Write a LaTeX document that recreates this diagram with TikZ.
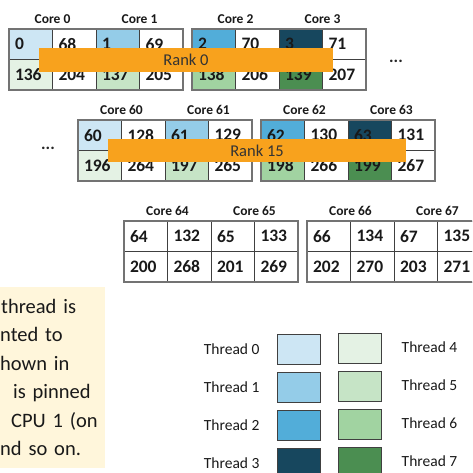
\documentclass[tikz,border=0pt]{standalone}
\usepackage{fontspec}
\setmainfont{Carlito}
\usetikzlibrary{positioning}
\definecolor{th0}{HTML}{CDE6F4}
\definecolor{th1}{HTML}{94CCE8}
\definecolor{th2}{HTML}{52ADD9}
\definecolor{th3}{HTML}{17475E}
\definecolor{th4}{HTML}{E4F2E4}
\definecolor{th5}{HTML}{C6E4C6}
\definecolor{th6}{HTML}{A1D3A1}
\definecolor{th7}{HTML}{4B8E51}
\definecolor{rankorange}{HTML}{F8A21D}
\definecolor{notefill}{HTML}{FFF6DB}
\tikzset{
  cellbox/.style={draw=black!75, line width=0.9pt, anchor=north west,
                  minimum height=30.5pt, text width=31.5pt, inner xsep=6pt,
                  inner ysep=0pt, outer sep=0pt, align=left, text=black!90,
                  font=\bfseries\fontsize{17.5}{18}\selectfont},
  groupframe/.style={draw=black!55, line width=1.6pt},
  corelabel/.style={font=\bfseries\fontsize{13.5}{14}\selectfont, text=black!90},
  rankbar/.style={fill=rankorange, inner sep=0pt, text=black!80,
                  font=\fontsize{16.5}{18}\selectfont},
  moredots/.style={font=\bfseries\fontsize{17}{18}\selectfont, text=black!85},
  legendbox/.style={draw=black!75, line width=1.2pt, anchor=north west,
                    minimum width=43pt, minimum height=30pt, inner sep=0pt},
  legendtext/.style={font=\fontsize{15.5}{16}\selectfont, text=black!90},
  notebox/.style={fill=notefill, anchor=north west, inner sep=0pt,
                  text width=105pt, minimum height=181pt, align=left,
                  font=\fontsize{20.5}{28.5}\selectfont, text=black!90}
}
\begin{document}
\begin{tikzpicture}[x=1pt, y=-1pt]
  \useasboundingbox (0,0) rectangle (472,473);
  \clip (0,0) rectangle (472,473);

  % three rows of cores, two cores per group
  \foreach \xo/\yo/\first/\shade in {9/29/0/1, 78/120/60/1, 124/221/64/0} {
    \foreach \i in {0,...,3} {
      \pgfmathtruncatemacro\k{\first+\i}
      \pgfmathtruncatemacro\m{mod(\k,4)}
      \pgfmathtruncatemacro\n{\m+4}
      \pgfmathsetmacro\cx{\xo+int(\i/2)*183+mod(\i,2)*87}
      \pgfmathtruncatemacro\vtr{\k+68}
      \pgfmathtruncatemacro\vbl{\k+136}
      \pgfmathtruncatemacro\vbr{\k+204}
      \ifnum\shade=1 \def\ftop{th\m}\def\fbot{th\n}\else\def\ftop{white}\def\fbot{white}\fi
      \node[cellbox, fill=\ftop] (c\k-tl) at (\cx,\yo) {\k};
      \node[cellbox, right=0pt of c\k-tl] (c\k-tr) {\vtr};
      \node[cellbox, fill=\fbot, below=0pt of c\k-tl] (c\k-bl) {\vbl};
      \node[cellbox, right=0pt of c\k-bl] (c\k-br) {\vbr};
      \node[corelabel] (core\k) at ([yshift=10pt]c\k-tl.north east) {Core \k};
    }
    \pgfmathtruncatemacro\ka{\first+1}
    \pgfmathtruncatemacro\kb{\first+2}
    \pgfmathtruncatemacro\kc{\first+3}
    \draw[groupframe] (c\first-tl.north west) rectangle (c\ka-br.south east);
    \draw[groupframe] (c\kb-tl.north west) rectangle (c\kc-br.south east);
  }

  % rank bars across the cores
  \node[rankbar, minimum width=294pt, minimum height=24pt] (rank0) at (186,60) {Rank 0};
  \node[rankbar, minimum width=298pt, minimum height=23pt] (rank15) at (257,150.5) {Rank 15};

  \node[moredots] (moreA) at (396,61) {...};
  \node[moredots] (moreB) at (48,148) {...};

  % note box, clipped at the left edge
  \node[notebox] (note) at (0,287)
    {\hspace*{1pt}thread is\\nted to\\hown in\\\hspace*{13pt}is pinned\\\hspace*{11pt}CPU 1 (on\\nd so on.};

  % legend
  \foreach \t in {0,...,3} {
    \pgfmathtruncatemacro\u{\t+4}
    \node[legendbox, fill=th\t] (leg\t) at (277,{334+38*\t}) {};
    \node[legendtext, left=14pt of leg\t] (legtxt\t) {Thread \t};
    \node[legendbox, fill=th\u] (leg\u) at (338,{333+38*\t}) {};
    \node[legendtext, right=16pt of leg\u, yshift=1pt] (legtxt\u) {Thread \u};
  }
\end{tikzpicture}
\end{document}
